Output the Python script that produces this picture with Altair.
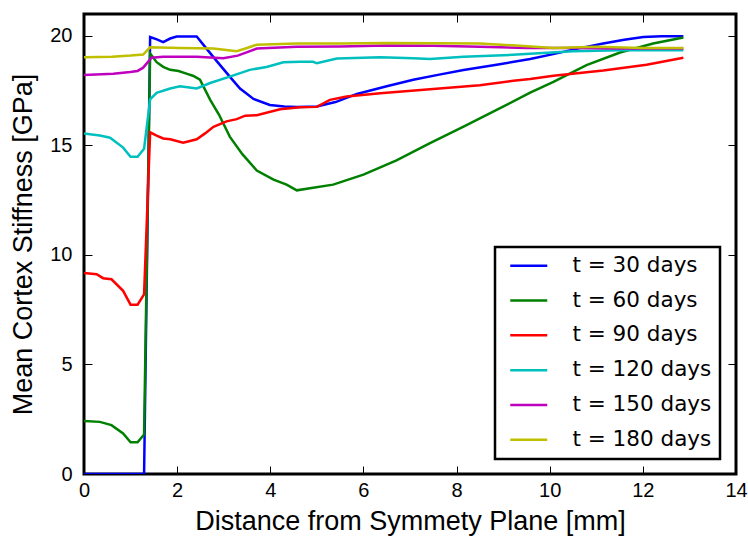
import altair as alt
import pandas as pd

labels = ["t = 30 days", "t = 60 days", "t = 90 days", "t = 120 days", "t = 150 days", "t = 180 days"]
colors = ["#0000ff", "#008000", "#ff0000", "#00bfbf", "#bf00bf", "#bfbf00"]
x_ticks = [0, 2, 4, 6, 8, 10, 12, 14]
y_ticks = [0, 5, 10, 15, 20]

x30 = [0, 1.29, 1.42, 1.55, 1.70, 1.85, 1.99, 2.2, 2.42, 2.63, 2.85, 3.13, 3.35, 3.64, 3.99, 4.3, 4.57, 5.0, 5.4, 5.86, 6.5, 7.07, 7.6, 8.15, 8.86, 9.58, 10.1, 10.6, 11.15, 11.6, 12.01, 12.4, 12.87]
y30 = [0, 0, 19.95, 19.85, 19.72, 19.88, 19.97, 19.97, 19.97, 19.42, 18.85, 18.14, 17.6, 17.12, 16.85, 16.78, 16.75, 16.78, 16.98, 17.35, 17.7, 18.0, 18.22, 18.44, 18.68, 18.95, 19.18, 19.42, 19.65, 19.82, 19.95, 19.98, 19.98]

x60 = [0, 0.34, 0.59, 0.84, 1.0, 1.15, 1.29, 1.42, 1.56, 1.70, 1.85, 2.03, 2.2, 2.35, 2.49, 2.71, 2.9, 3.13, 3.4, 3.71, 4.07, 4.35, 4.57, 4.85, 5.35, 6.0, 6.71, 7.43, 8.15, 8.86, 9.58, 10.08, 10.79, 11.51, 12.22, 12.87]
y60 = [2.42, 2.38, 2.23, 1.85, 1.45, 1.45, 1.8, 19.2, 18.8, 18.59, 18.45, 18.4, 18.28, 18.17, 18.0, 17.08, 16.4, 15.4, 14.6, 13.85, 13.44, 13.21, 12.95, 13.05, 13.21, 13.67, 14.32, 15.11, 15.86, 16.62, 17.41, 17.9, 18.67, 19.24, 19.65, 19.93]

x90 = [0, 0.27, 0.41, 0.59, 0.84, 1.0, 1.15, 1.29, 1.42, 1.56, 1.70, 1.85, 2.13, 2.42, 2.6, 2.78, 3.06, 3.28, 3.46, 3.71, 4.21, 4.64, 5.0, 5.28, 5.64, 6.36, 7.43, 8.5, 9.22, 9.58, 10.08, 11.15, 12.08, 12.87]
y90 = [9.18, 9.12, 8.94, 8.89, 8.36, 7.73, 7.73, 8.2, 15.6, 15.45, 15.32, 15.28, 15.12, 15.28, 15.55, 15.85, 16.1, 16.2, 16.36, 16.38, 16.65, 16.74, 16.76, 17.08, 17.23, 17.38, 17.56, 17.75, 17.95, 18.03, 18.18, 18.42, 18.68, 19.0]

x120 = [0, 0.34, 0.56, 0.84, 1.0, 1.15, 1.29, 1.42, 1.56, 1.85, 2.06, 2.42, 2.71, 3.13, 3.56, 3.92, 4.28, 4.64, 4.92, 5.0, 5.43, 6.36, 7.07, 7.43, 8.15, 8.86, 9.58, 10.5, 11.5, 12.87]
y120 = [15.55, 15.45, 15.35, 14.9, 14.48, 14.48, 14.85, 17.1, 17.4, 17.6, 17.7, 17.6, 17.85, 18.14, 18.45, 18.58, 18.8, 18.82, 18.82, 18.75, 18.97, 19.03, 18.98, 18.95, 19.05, 19.1, 19.18, 19.3, 19.35, 19.35]

x150 = [0, 0.63, 0.99, 1.15, 1.27, 1.45, 1.70, 2.42, 2.99, 3.3, 3.49, 3.71, 4.57, 5.5, 6.5, 7.5, 8.5, 9.5, 10.5, 11.5, 12.87]
y150 = [18.22, 18.27, 18.35, 18.4, 18.55, 19.0, 19.05, 19.05, 18.98, 19.1, 19.25, 19.42, 19.5, 19.52, 19.56, 19.55, 19.5, 19.45, 19.45, 19.42, 19.42]

x180 = [0, 0.6, 1.0, 1.27, 1.42, 2.06, 2.78, 3.1, 3.28, 3.5, 3.71, 4.57, 5.5, 6.5, 7.5, 8.5, 9.36, 10.08, 11.0, 12.0, 12.87]
y180 = [19.02, 19.05, 19.1, 19.15, 19.48, 19.45, 19.42, 19.35, 19.3, 19.45, 19.6, 19.65, 19.65, 19.68, 19.66, 19.65, 19.55, 19.45, 19.5, 19.45, 19.45]

series_x = [x30, x60, x90, x120, x150, x180]
series_y = [y30, y60, y90, y120, y150, y180]

rows = []
for lab, xs, ys in zip(labels, series_x, series_y):
    for i, (a, b) in enumerate(zip(xs, ys)):
        rows.append({"series": lab, "x": a, "y": b, "order": i})
df = pd.DataFrame(rows)

AX_FONT = "Liberation Sans"
xscale = alt.Scale(domain=[0, 14], nice=False, zero=False)
yscale = alt.Scale(domain=[0, 21], nice=False, zero=False)

color = alt.Color(
    "series:N",
    scale=alt.Scale(domain=labels, range=colors),
    legend=alt.Legend(
        title=None, orient="none", legendX=411, legendY=233,
        symbolType="M-2,0H2", symbolSize=342.25, symbolStrokeWidth=2.5, symbolOffset=15,
        labelFontSize=21.5, labelFont="DejaVu Sans", labelColor="black",
        labelOffset=33, rowPadding=11.8, padding=8,
        strokeColor="black", fillColor="white", cornerRadius=0,
    ),
)

lines = alt.Chart(df).mark_line(strokeWidth=2.5, clip=True).encode(
    x=alt.X("x:Q", scale=xscale, axis=alt.Axis(
        orient="bottom", values=x_ticks, offset=-8, tickSize=8, tickWidth=1, tickColor="black",
        domain=False, grid=False, labelFlush=False, labelPadding=6, labelFont=AX_FONT, labelFontSize=20,
        labelColor="black", title="Distance from Symmety Plane [mm]", titleFont=AX_FONT,
        titleFontSize=27, titleFontWeight="normal", titleColor="black", titlePadding=8)),
    y=alt.Y("y:Q", scale=yscale, axis=alt.Axis(
        orient="left", values=y_ticks, offset=-8, tickSize=8, tickWidth=1, tickColor="black",
        domain=False, grid=False, labelFlush=False, labelPadding=12, labelFont=AX_FONT, labelFontSize=20,
        labelColor="black", title="Mean Cortex Stiffness [GPa]", titleFont=AX_FONT,
        titleFontSize=27, titleFontWeight="normal", titleColor="black", titlePadding=12)),
    color=color,
    order="order:Q",
)

frame = alt.Chart(df).mark_line(opacity=0, clip=True).encode(
    x=alt.X("x:Q", scale=xscale, axis=alt.Axis(
        orient="top", values=x_ticks, offset=-8, tickSize=8, tickWidth=1, tickColor="black",
        domain=False, grid=False, labels=False, title=None)),
    y=alt.Y("y:Q", scale=yscale, axis=alt.Axis(
        orient="right", values=y_ticks, offset=-8, tickSize=8, tickWidth=1, tickColor="black",
        domain=False, grid=False, labels=False, title=None)),
    detail="series:N",
    order="order:Q",
)

chart = alt.layer(lines, frame).resolve_scale(x="independent", y="independent").properties(
    width=652, height=460,
    padding={"left": 84, "top": 14, "right": 12, "bottom": 64},
    autosize=alt.AutoSizeParams(type="none"),
    background="white",
).configure_view(stroke="black", strokeWidth=3).configure_legend(strokeWidth=2.5)

chart.save("out.html", embed_options={"renderer": "svg", "actions": False})
